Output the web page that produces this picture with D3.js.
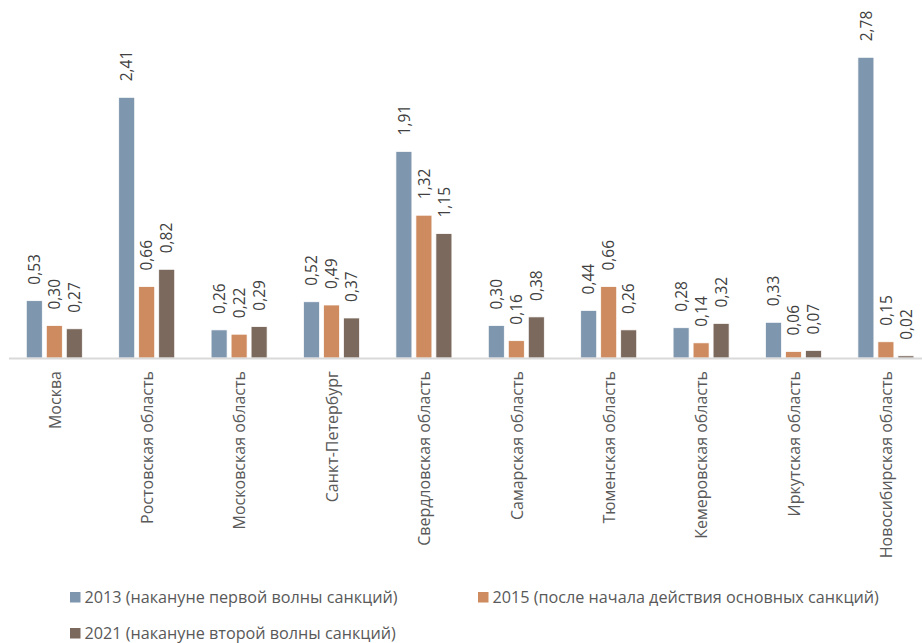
<!DOCTYPE html>
<html><head><meta charset="utf-8">
<script src="https://cdn.jsdelivr.net/npm/d3@7"></script>
<style>body{margin:0;background:#fff;} svg{display:block;}</style>
</head><body>
<script>
const categories = ["Москва","Ростовская область","Московская область","Санкт-Петербург","Свердловская область","Самарская область","Тюменская область","Кемеровская область","Иркутская область","Новосибирская область"];
const seriesNames = ["2013 (накануне первой волны санкций)","2015 (после начала действия основных санкций)","2021 (накануне второй волны санкций)"];
const v2013 = [0.53,2.41,0.26,0.52,1.91,0.30,0.44,0.28,0.33,2.78];
const v2015 = [0.30,0.66,0.22,0.49,1.32,0.16,0.66,0.14,0.06,0.15];
const v2021 = [0.27,0.82,0.29,0.37,1.15,0.38,0.26,0.32,0.07,0.02];
const colors = ["#7f97ae","#cd8b5f","#7b695d"];

const W=922,H=643;
const svg=d3.select("body").append("svg").attr("width",W).attr("height",H);
const font="'Open Sans', sans-serif";
const baseY=358;
const x=d3.scaleBand().domain(categories).range([8.6,932.6]).paddingInner(0).paddingOuter(0);
const y=d3.scaleLinear().domain([0,2.78]).range([baseY,57.3]);
const series=[v2013,v2015,v2021];
const step=20,bw=16;
const fmt=v=>v.toFixed(2).replace(".",",");

series.forEach((vals,si)=>{
  const g=svg.append("g");
  g.selectAll("rect").data(vals).join("rect")
    .attr("x",(d,i)=>x(categories[i])+x.bandwidth()/2-28.5+si*step)
    .attr("y",d=>y(d)).attr("width",bw).attr("height",d=>baseY-y(d))
    .attr("fill",colors[si]).attr("stroke","#fff").attr("stroke-width",0.75);
  g.selectAll("text").data(vals).join("text")
    .attr("transform",(d,i)=>{const cx=x(categories[i])+x.bandwidth()/2-28.5+si*step+bw/2;return `translate(${cx+5.6},${y(d)-16}) rotate(-90)`;})
    .attr("font-family",font).attr("font-size",15.5).attr("fill","#404040")
    .text(d=>fmt(d));
});

svg.append("line").attr("x1",9).attr("x2",922).attr("y1",baseY+0.5).attr("y2",baseY+0.5)
  .attr("stroke","#d9d9d9").attr("stroke-width",2);

const xAxis=svg.append("g").attr("transform",`translate(0,${baseY})`)
  .call(d3.axisBottom(x).tickSize(0).tickPadding(0));
xAxis.select(".domain").remove();
xAxis.selectAll("text")
  .attr("font-family",font).attr("font-size",16).attr("fill","#595959")
  .attr("text-anchor","end").attr("dy",null).attr("y",0).attr("x",0)
  .attr("transform","translate(5.8,13) rotate(-90)");

const legend=[{i:0,x:70,y:592},{i:1,x:478,y:592},{i:2,x:70,y:628}];
legend.forEach(l=>{
  svg.append("rect").attr("x",l.x).attr("y",l.y).attr("width",10.5).attr("height",10.5).attr("fill",colors[l.i]);
  svg.append("text").attr("x",l.x+14.5).attr("y",l.y+11).attr("font-family",font).attr("font-size",16.2)
    .attr("fill","#595959").text(seriesNames[l.i]);
});
</script>
</body></html>
